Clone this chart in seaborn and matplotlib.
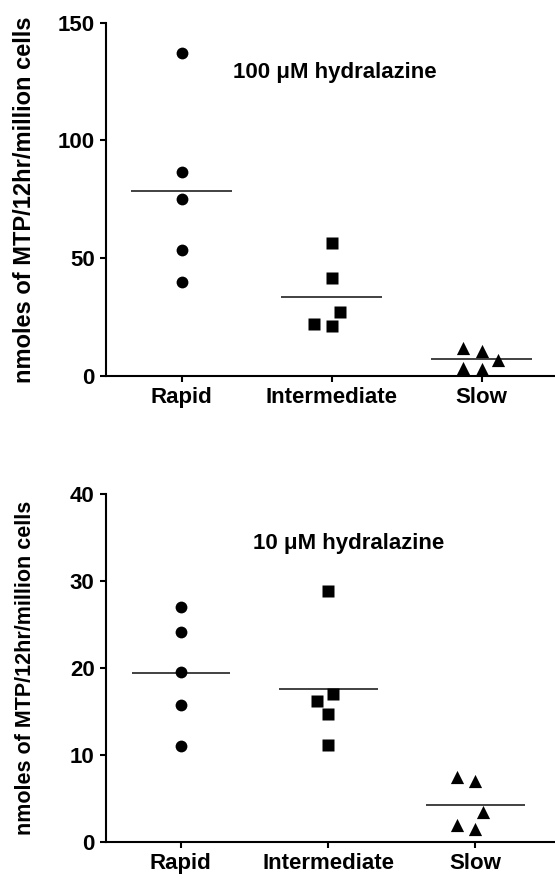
import matplotlib
matplotlib.use('Agg')
import matplotlib.pyplot as plt
import numpy as np
import pandas as pd
import seaborn as sns

sns.set_style('ticks')
plt.rcParams['font.family'] = ['Liberation Sans', 'DejaVu Sans']
plt.rcParams['font.weight'] = 'bold'
plt.rcParams['text.color'] = 'black'
plt.rcParams['axes.labelcolor'] = 'black'
plt.rcParams['xtick.color'] = 'black'
plt.rcParams['ytick.color'] = 'black'

groups = ['Rapid', 'Intermediate', 'Slow']
markers = ['o', 's', '^']

rapid_100 = [137.3, 86.4, 75.0, 53.5, 40.1]
inter_100 = [56.3, 41.5, 27.2, 21.1, 22.2]
slow_100 = [11.7, 10.7, 6.8, 2.8, 3.5]

rapid_10 = [27.0, 24.1, 19.5, 15.8, 11.0]
inter_10 = [28.9, 17.0, 16.2, 14.7, 11.2]
slow_10 = [7.0, 7.5, 3.4, 1.5, 1.9]

ylabel = 'nmoles of MTP/12hr/million cells'


def make_df(r, i, s):
    return pd.DataFrame({
        'group': ['Rapid'] * len(r) + ['Intermediate'] * len(i) + ['Slow'] * len(s),
        'value': r + i + s,
    })


def draw(ax, df, ymax, yticks, title, tx, ty, xlim, label_size):
    for g, m in zip(groups, markers):
        sz = 9.5 if m == '^' else 8.5
        # transparent edge widens the swarm spacing like the original
        sns.swarmplot(data=df[df.group == g], x='group', y='value', order=groups,
                      marker=m, color='black', size=sz, linewidth=3.5,
                      edgecolor=(1, 1, 1, 0), ax=ax)
    # mean line only
    sns.boxplot(data=df, x='group', y='value', order=groups, width=0.67,
                showmeans=True, meanline=True, showbox=False, showcaps=False,
                showfliers=False,
                whiskerprops={'visible': False},
                medianprops={'visible': False},
                meanprops={'color': '#333333', 'linestyle': '-', 'linewidth': 1.3},
                ax=ax)
    ax.set_xlim(*xlim)
    ax.set_ylim(0, ymax)
    ax.set_yticks(yticks)
    ax.set_xlabel('')
    ax.set_ylabel(ylabel, fontsize=label_size, fontweight='bold')
    ax.yaxis.set_label_coords(-0.155, 0.5)
    ax.text(tx, ty, title, fontsize=16, fontweight='bold', ha='left', va='center')
    for sp in ['left', 'bottom']:
        ax.spines[sp].set_linewidth(1.5)
        ax.spines[sp].set_color('black')
    ax.tick_params(axis='both', labelsize=16, width=1.5, length=4.5, color='black')
    for t in ax.get_xticklabels() + ax.get_yticklabels():
        t.set_fontweight('bold')
    sns.despine(ax=ax)


fig = plt.figure(figsize=(5.55, 8.82), dpi=100)
ax1 = fig.add_axes([0.191, 0.5737, 0.809, 0.4006])
ax2 = fig.add_axes([0.1905, 0.0454, 0.8095, 0.3945])

draw(ax1, make_df(rapid_100, inter_100, slow_100), 150, [0, 50, 100, 150],
     '100 \u03bcM hydralazine', 0.34, 129, (-0.505, 2.49), 17)
draw(ax2, make_df(rapid_10, inter_10, slow_10), 40, [0, 10, 20, 30, 40],
     '10 \u03bcM hydralazine', 0.49, 34.3, (-0.51, 2.54), 15.5)

fig.savefig('out.png', dpi=100)
